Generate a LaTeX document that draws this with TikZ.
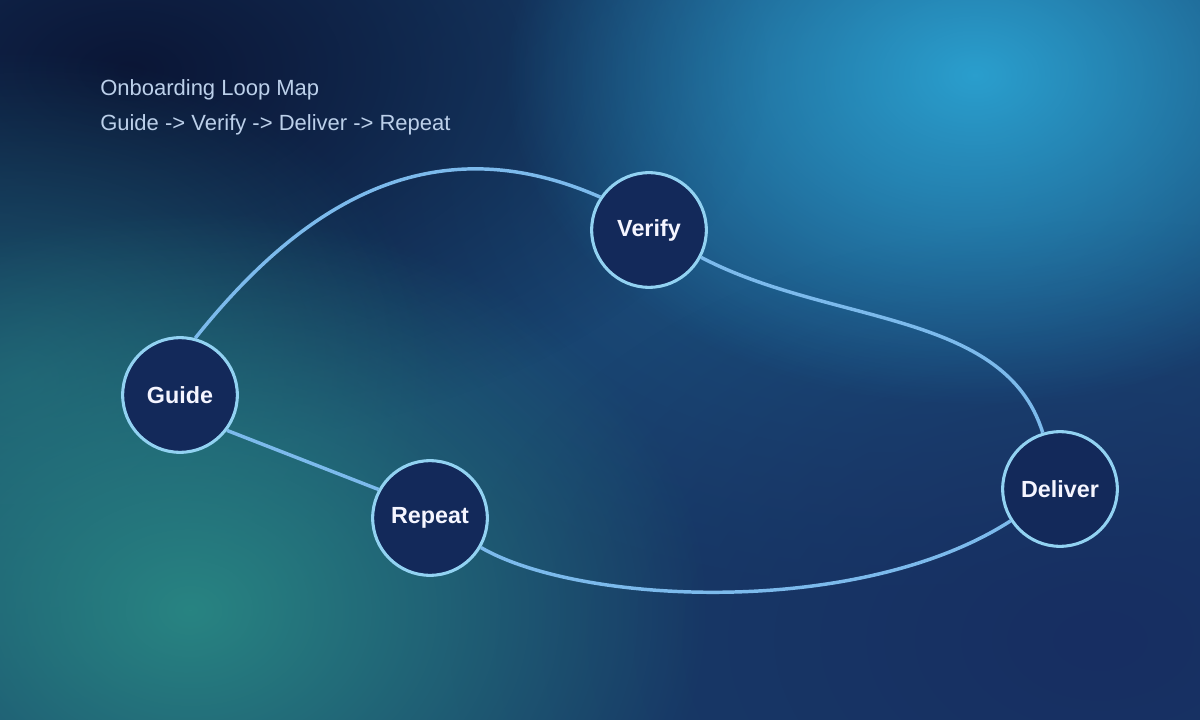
\documentclass[tikz,border=0pt]{standalone}
\usepackage{fontspec}
\setmainfont{Liberation Sans}
\usepackage{tikz}
\usetikzlibrary{fadings}
\definecolor{bgbase}{HTML}{173C68}
\definecolor{glowsky}{HTML}{2BA3D2}
\definecolor{glowmid}{HTML}{1E5C8C}
\definecolor{glowteal}{HTML}{288482}
\definecolor{glowleft}{HTML}{1F6274}
\definecolor{deepnavy}{HTML}{0B1636}
\definecolor{lowright}{HTML}{182E62}
\definecolor{nodefill}{HTML}{13295A}
\definecolor{nodering}{HTML}{92D2F2}
\definecolor{linkblue}{HTML}{7CBAEC}
\definecolor{captext}{HTML}{BCD0EA}
\tikzfading[name=glowfade, inner color=transparent!0, outer color=transparent!100]

\begin{document}
\begin{tikzpicture}[
  x=0.75pt, y=-0.75pt,
  loopnode/.style={circle, draw=nodering, line width=2.3pt, fill=nodefill,
                   minimum size=86pt, inner sep=0pt, text=white!96!blue,
                   font=\fontsize{17.5}{19}\selectfont\bfseries},
  link/.style={draw=linkblue, line width=2.6pt},
  caption/.style={anchor=base west, text=captext, inner sep=0pt,
                  font=\fontsize{16.5}{18}\selectfont},
  glow/.style={fill=#1, path fading=glowfade},
]

% BACKGROUND
\useasboundingbox (0,0) rectangle (1200,720);
\fill[bgbase] (0,0) rectangle (1200,720);
\begin{scope}
  \clip (0,0) rectangle (1200,720);
  \fill[glow=glowmid, opacity=0.7] (900,180) ellipse (650 and 420);
  \fill[glow=deepnavy] (130,70) ellipse (640 and 380);
  \fill[glow=lowright] (1100,640) ellipse (650 and 420);
  \fill[glow=glowleft, opacity=0.8] (20,380) ellipse (420 and 330);
  \fill[glow=glowteal] (190,610) ellipse (520 and 400);
  \fill[glow=glowsky, opacity=0.95] (975,75) ellipse (470 and 330);
\end{scope}

% TITLE
\node[caption] (title) at (100,96) {Onboarding Loop Map};
\node[caption] (subtitle) at (100,131) {Guide -> Verify -> Deliver -> Repeat};

% NODES
\node[loopnode] (guide)   at (180,395)  {Guide};
\node[loopnode] (verify)  at (649,230)  {Verify};
\node[loopnode] (deliver) at (1060,489) {Deliver};
\node[loopnode] (repeat)  at (430,518)  {Repeat};

% LINKS
\draw[link] (guide.75) .. controls (296,212) and (425,120) .. (verify.146);
\draw[link] (verify) .. controls (830,325) and (1005,310) .. (deliver);
\draw[link] (deliver) .. controls (860,618) and (580,605) .. (repeat);
\draw[link] (repeat.151) -- (guide.-37);

\end{tikzpicture}
\end{document}
